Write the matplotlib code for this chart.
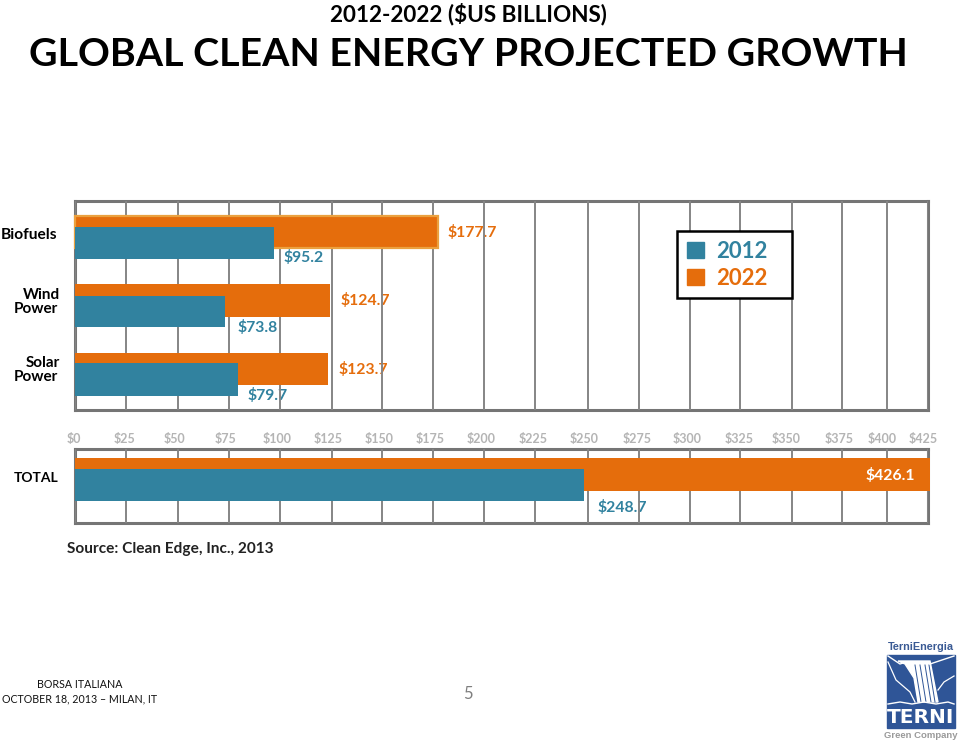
import numpy as np
import matplotlib
matplotlib.use('Agg')
import matplotlib.pyplot as plt
from matplotlib.patches import Patch, Polygon, Rectangle
from matplotlib.transforms import ScaledTranslation

W, H = 959, 742
plt.rcParams['font.family'] = ['Lato', 'DejaVu Sans']

BLUE = '#31829f'
ORANGE = '#e56d0c'
GRID = '#858585'
FRAME = '#757575'
TICK_GREY = '#b4b4b4'

# data
categories = ['Biofuels', 'Wind\nPower', 'Solar\nPower']
# bar lengths (original bars are not exactly to their labels)
bars_2012 = [97.0, 73.2, 79.3]
bars_2022 = [177.6, 123.8, 123.2]
labels_2012 = ['$95.2', '$73.8', '$79.7']
labels_2022 = ['$177.7', '$124.7', '$123.7']
total_2012 = 248.2
total_2022 = 426.1
total_label_2012 = '$248.7'
total_label_2022 = '$426.1'
tick_values = [0, 25, 50, 75, 100, 125, 150, 175, 200, 225, 250, 275, 300, 325, 350, 375, 400, 425]
tick_labels = ['$' + str(v) for v in tick_values]

# the gridlines of the original are unevenly spaced, so the x scale follows them
grid_px = [75, 126, 178, 229, 280, 332, 382, 433, 484, 535, 588, 639, 690, 740, 792, 842, 887, 928]
tick_label_shift = [-1, -1, -3, -3, -3, -4, -3, -3, -3, -2, -4, -2, -3, -1, -6, -3, -5, -5]


def forward(x):
    return np.interp(x, tick_values + [450], grid_px + [969])


def inverse(x):
    return np.interp(x, grid_px + [969], tick_values + [450])


fig = plt.figure(figsize=(W / 100, H / 100), dpi=100, facecolor='white')


def panel(x0, y_top, x1, y_bottom):
    ax = fig.add_axes([x0 / W, 1 - y_bottom / H, (x1 - x0) / W, (y_bottom - y_top) / H])
    ax.set_xscale('function', functions=(forward, inverse))
    ax.set_xlim(0, 425)
    ax.set_ylim(y_bottom, y_top)  # y is in picture pixels
    ax.set_yticks([])
    ax.set_xticks(tick_values)
    ax.minorticks_off()
    ax.tick_params(length=0, labelbottom=False)
    ax.set_axisbelow(False)
    ax.grid(axis='x', color=GRID, linewidth=1.4)
    for s in ax.spines.values():
        s.set_color(FRAME)
        s.set_linewidth(2.2)
    return ax


ax = panel(75, 201, 928, 410)
ax_total = panel(75, 449, 928, 523)


def hbar(a, top, bottom, value, color, **kw):
    a.barh((top + bottom) / 2, value, height=bottom - top, color=color,
           zorder=3, clip_on=False, **kw)


def value_label(a, x, y, text, color, dx, ha='left'):
    a.annotate(text, (x, y), xytext=(dx, 0), textcoords='offset pixels', ha=ha, va='center',
               color=color, fontsize=11.3, fontweight='bold', zorder=1, annotation_clip=False)


rows_2022 = [(216, 248), (284, 317), (353, 385)]
rows_2012 = [(227, 259), (296, 327), (363, 396)]
label_y_2022 = [233, 301, 370]
label_y_2012 = [258, 328, 396]
label_dx_2022 = [9, 11, 10]
label_dx_2012 = [10, 12, 10]

for i in range(len(categories)):
    extra = {'edgecolor': '#eba13f', 'linewidth': 1.6} if i == 0 else {}
    hbar(ax, rows_2022[i][0], rows_2022[i][1], bars_2022[i], ORANGE, **extra)
    hbar(ax, rows_2012[i][0], rows_2012[i][1], bars_2012[i], BLUE)
    value_label(ax, bars_2022[i], label_y_2022[i], labels_2022[i], ORANGE, label_dx_2022[i])
    value_label(ax, bars_2012[i], label_y_2012[i], labels_2012[i], BLUE, label_dx_2012[i])

hbar(ax_total, 458, 491, total_2022, ORANGE)
hbar(ax_total, 469, 501, total_2012, BLUE)
value_label(ax_total, total_2012, 508, total_label_2012, BLUE, 13)
ax_total.annotate(total_label_2022, (total_2022, 476), xytext=(-15, 0), textcoords='offset pixels',
                  ha='right', va='center', color='white', fontsize=11.3, fontweight='bold',
                  zorder=5, annotation_clip=False)

# tick labels sit between the two panels, a little off their gridlines
ax_total.tick_params(labeltop=True, pad=3)
ax_total.set_xticklabels(tick_labels, color=TICK_GREY, fontsize=9, fontweight='bold')
for lab, shift in zip(ax_total.get_xticklabels(), tick_label_shift):
    lab.set_transform(lab.get_transform() + ScaledTranslation(shift / 100, 0, fig.dpi_scale_trans))

# everything else is placed in picture pixels on a transparent overlay
ov = fig.add_axes([0, 0, 1, 1], facecolor='none')
ov.set_xlim(0, W)
ov.set_ylim(H, 0)
ov.axis('off')

# legend box is wider than the legend needs, so it gets its own frame
ax.add_patch(Rectangle((677, 231), 115, 67, transform=ov.transData, facecolor='white',
                       edgecolor='black', linewidth=1.8, zorder=5.5, clip_on=False))
handles = [Patch(color=BLUE, label='2012'), Patch(color=ORANGE, label='2022')]
leg = ax.legend(handles=handles, loc='upper left',
                bbox_to_anchor=((677 - 75) / 853, 1 - (231 - 201) / 209),
                prop={'size': 16, 'weight': 'bold'}, labelcolor=[BLUE, ORANGE], frameon=False,
                handlelength=0.76, handleheight=0.76,
                handletextpad=0.55, labelspacing=0.25, borderpad=0.45, borderaxespad=0)
leg.set_zorder(6)

ov.text(468.5, 14, '2012-2022 ($US BILLIONS)', ha='center', va='center', fontsize=16.2, fontweight='bold', color='black')
ov.text(468.5, 55, 'GLOBAL CLEAN ENERGY PROJECTED GROWTH', ha='center', va='center', fontsize=28.4, fontweight='bold', color='black')

ov.text(57, 235, 'Biofuels', ha='right', va='center', fontsize=11.2, fontweight='bold')
ov.text(60, 302, 'Wind', ha='right', va='bottom', fontsize=11, fontweight='bold')
ov.text(58, 302, 'Power', ha='right', va='top', fontsize=11, fontweight='bold')
ov.text(60, 370, 'Solar', ha='right', va='bottom', fontsize=11, fontweight='bold')
ov.text(58, 370, 'Power', ha='right', va='top', fontsize=11, fontweight='bold')
ov.text(58, 478, 'TOTAL', ha='right', va='center', fontsize=10, fontweight='bold')
ov.text(67, 549, 'Source: Clean Edge, Inc., 2013', ha='left', va='center', fontsize=11.1, fontweight='bold', color='#222222')

ov.text(80, 685, 'BORSA ITALIANA', ha='center', va='center', fontsize=7.7, color='#111111')
ov.text(80, 699, 'OCTOBER 18, 2013 \u2013 MILAN, IT', ha='center', va='center', fontsize=7.7, color='#111111')
ov.text(468, 694, '5', ha='center', va='center', fontsize=12, color='#7f7f7f')

# logo
LOGO_BLUE = '#2f5597'
ov.text(921, 647, 'TerniEnergia', ha='center', va='center', fontsize=7.8, fontweight='bold',
        family='Liberation Sans', color='#3a5a94')
ov.add_patch(Rectangle((887, 655), 68, 73, color=LOGO_BLUE))
ov.add_patch(Polygon([(898, 661), (930, 661), (938, 702), (918, 702), (914, 678), (905, 664)], color='white'))
for x_top, x_bot in [(915, 921), (920, 926), (925, 931), (929, 935)]:
    ov.plot([x_top, x_bot], [665, 702], color=LOGO_BLUE, lw=0.7)
ov.plot([888, 900, 906], [656, 664, 662], color='white', lw=1)
ov.plot([888, 896, 910, 915], [662, 680, 692, 702], color='white', lw=0.9)
ov.plot([930, 942, 954], [664, 660, 656], color='white', lw=1)
ov.plot([938, 944, 954], [690, 682, 676], color='white', lw=0.9)
ov.plot([888, 900, 912, 924, 936, 948, 954], [704, 702, 704, 702, 704, 702, 704], color='white', lw=1)
ov.text(921, 717.5, 'TERNI', ha='center', va='center', fontsize=14.5, fontweight='bold',
        family='DejaVu Sans', color='white')
ov.text(921, 735, 'Green Company', ha='center', va='center', fontsize=6.8, fontweight='bold',
        family='Liberation Sans', color='#9a9a9a')

fig.savefig('out.png', dpi=100)
